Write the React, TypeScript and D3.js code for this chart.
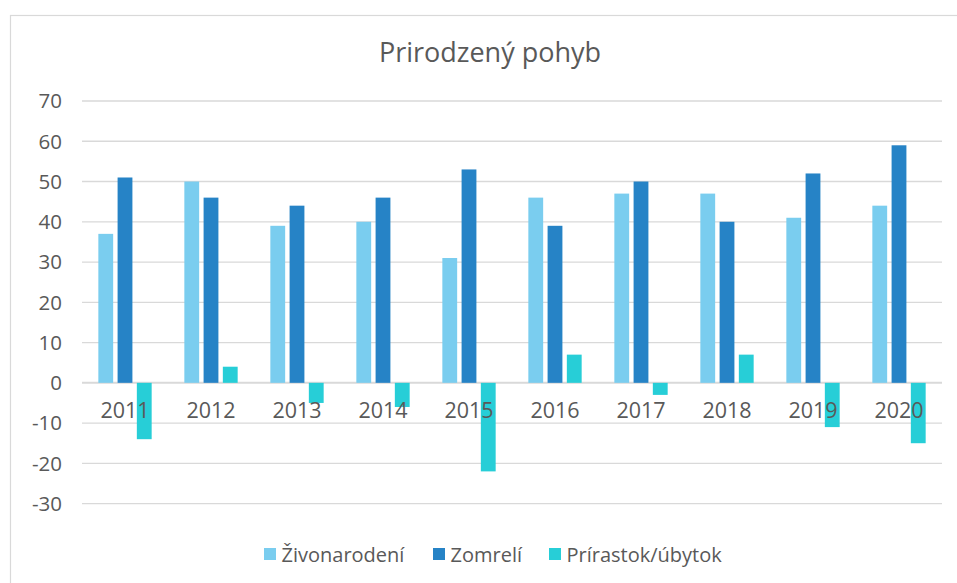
import React from "react";
import * as d3 from "d3";

const categories = ["2011", "2012", "2013", "2014", "2015", "2016", "2017", "2018", "2019", "2020"];
const seriesNames = ["Živonarodení", "Zomrelí", "Prírastok/úbytok"];
const zivonarodeni = [37, 50, 39, 40, 31, 46, 47, 47, 41, 44];
const zomreli = [51, 46, 44, 46, 53, 39, 50, 40, 52, 59];
const prirastok = [-14, 4, -5, -6, -22, 7, -3, 7, -11, -15];
const yTicks = [70, 60, 50, 40, 30, 20, 10, 0, -10, -20, -30];
const colors = ["#7ACDEF", "#2683C6", "#27CED7"];
const title = "Prirodzený pohyb";

const W = 957;
const H = 583;
const FONT = "'Open Sans', 'DejaVu Sans', sans-serif";
const TEXT = "#595959";

export default function App() {
  const seriesValues = [zivonarodeni, zomreli, prirastok];
  const x = d3.scaleBand<string>().domain(categories).range([82, 942]).padding(0);
  const bw = x.bandwidth();
  const x1 = d3
    .scaleBand<number>()
    .domain([0, 1, 2])
    .range([bw * 0.19, bw * 0.81])
    .paddingInner(0.23);
  const y = d3.scaleLinear().domain([-30, 70]).range([503.6, 101]);
  const legendX = [264, 433, 549];

  return (
    <svg
      width={W}
      height={H}
      style={{ position: "fixed", left: 0, top: 0, background: "#fff", display: "block" }}
      fontFamily={FONT}
    >
      <rect x={0} y={0} width={W} height={H} fill="#fff" />
      <rect x={10.5} y={15.5} width={1200} height={1000} fill="none" stroke="#D9D9D9" strokeWidth={1.2} />
      <text x={490} y={62} textAnchor="middle" fontSize={27} fill={TEXT}>
        {title}
      </text>
      {yTicks.map((t) => (
        <g key={t}>
          <line
            x1={82}
            x2={942}
            y1={y(t)}
            y2={y(t)}
            stroke="#D9D9D9"
            strokeWidth={t === 0 ? 2 : 1.3}
          />
          <text x={62} y={y(t)} dy="0.36em" textAnchor="end" fontSize={20.5} fill={TEXT}>
            {t}
          </text>
        </g>
      ))}
      {categories.map((c, ci) => (
        <g key={c} transform={`translate(${x(c)},0)`}>
          {seriesValues.map((vals, si) => {
            const v = vals[ci];
            const y0 = y(0);
            const yv = y(v);
            return (
              <rect
                key={si}
                x={x1(si)}
                y={Math.min(y0, yv)}
                width={x1.bandwidth()}
                height={Math.abs(yv - y0)}
                fill={colors[si]}
              />
            );
          })}
        </g>
      ))}
      {categories.map((c) => (
        <text
          key={c}
          x={(x(c) as number) + bw / 2}
          y={418}
          textAnchor="middle"
          fontSize={21.5}
          fill={TEXT}
        >
          {c}
        </text>
      ))}
      {seriesNames.map((n, i) => (
        <g key={n}>
          <rect x={legendX[i]} y={548} width={12} height={12} fill={colors[i]} />
          <text x={legendX[i] + 17.5} y={561.5} fontSize={20} fill={TEXT}>
            {n}
          </text>
        </g>
      ))}
    </svg>
  );
}
